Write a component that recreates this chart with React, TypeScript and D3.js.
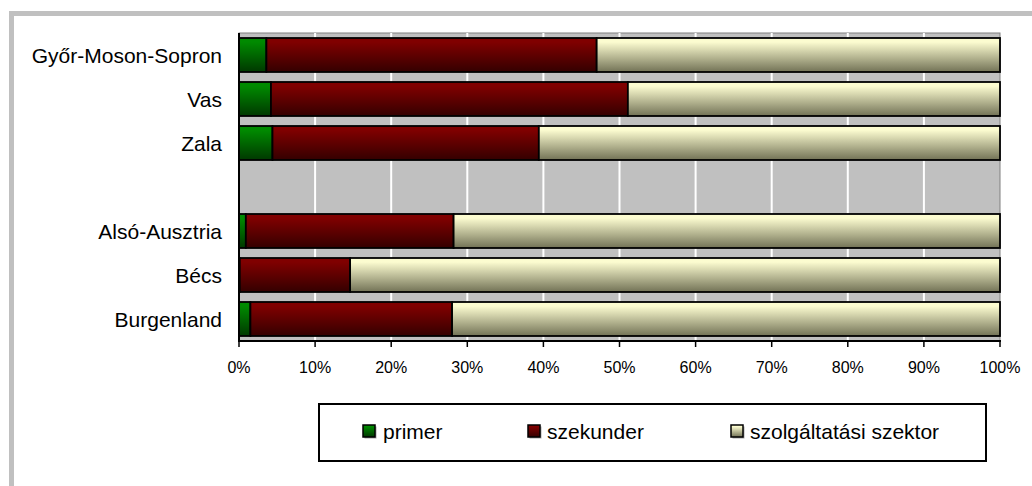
import React from "react";
import * as d3 from "d3";

const categories = ["Győr-Moson-Sopron", "Vas", "Zala", "", "Alsó-Ausztria", "Bécs", "Burgenland"];
const primer = [3.6, 4.2, 4.4, 0, 0.9, 0.1, 1.5];
const szekunder = [43.4, 46.9, 35.0, 0, 27.3, 14.5, 26.5];
const szolgaltatasi = [53.0, 48.9, 60.6, 0, 71.8, 85.4, 72.0];
const seriesNames = ["primer", "szekunder", "szolgáltatási szektor"];
const xTicks = [0, 0.1, 0.2, 0.3, 0.4, 0.5, 0.6, 0.7, 0.8, 0.9, 1];

const gradients = [
  { id: "gGreen", top: "#008a00", bottom: "#003800" },
  { id: "gRed", top: "#800000", bottom: "#340000" },
  { id: "gCream", top: "#fcfcd0", bottom: "#727256" },
];

export default function App() {
  const W = 1032, H = 486;
  const left = 239, right = 1000, top = 33, bottom = 341;
  const x = d3.scaleLinear().domain([0, 1]).range([left, right]);
  const y = d3.scaleBand<number>().domain(categories.map((_, i) => i)).range([top, bottom]).paddingInner(10 / 44).paddingOuter(5 / 44);
  const fmt = d3.format(".0%");

  const rows = categories.map((c, i) => ({ i, c, vals: [primer[i], szekunder[i], szolgaltatasi[i]] }));
  const stack = rows.map((r) => {
    const total = d3.sum(r.vals);
    let acc = 0;
    return r.vals.map((v, k) => {
      const s0 = total ? acc / total : 0;
      acc += v;
      const s1 = total ? acc / total : 0;
      return { k, s0, s1, v };
    });
  });

  const font = "Arial, 'Liberation Sans', sans-serif";
  const legendItems = [
    { sx: 363, tx: 383 },
    { sx: 528, tx: 547 },
    { sx: 731, tx: 750 },
  ];

  return (
    <svg width={W} height={H} style={{ position: "absolute", left: 0, top: 0, background: "#fff" }} fontFamily={font}>
      <defs>
        {gradients.map((g) => (
          <linearGradient key={g.id} id={g.id} x1="0" y1="0" x2="0" y2="1">
            <stop offset="0" stopColor={g.top} />
            <stop offset="0.12" stopColor={g.top} />
            <stop offset="1" stopColor={g.bottom} />
          </linearGradient>
        ))}
      </defs>
      <rect x={11.5} y={13.5} width={W + 20} height={H + 20} fill="none" stroke="#c0c0c0" strokeWidth={5} />
      <rect x={left} y={top} width={right - left} height={bottom - top} fill="#c0c0c0" stroke="#808080" strokeWidth={1} />
      {xTicks.slice(1, -1).map((t) => (
        <line key={t} x1={x(t)} x2={x(t)} y1={top} y2={bottom} stroke="#fff" strokeWidth={2} />
      ))}
      {rows.map((r) =>
        stack[r.i].map((s) =>
          s.v > 0.05 ? (
            <rect
              key={r.i + "-" + s.k}
              x={x(s.s0)}
              y={y(r.i)}
              width={x(s.s1) - x(s.s0)}
              height={y.bandwidth()}
              fill={`url(#${gradients[s.k].id})`}
              stroke="#000"
              strokeWidth={1.8}
            />
          ) : null
        )
      )}
      <line x1={left} x2={left} y1={top} y2={bottom} stroke="#000" strokeWidth={2} />
      <line x1={left - 1} x2={right + 1} y1={bottom} y2={bottom} stroke="#000" strokeWidth={2} />
      {xTicks.map((t) => (
        <g key={t}>
          <line x1={x(t)} x2={x(t)} y1={bottom} y2={bottom + 6} stroke="#000" strokeWidth={1.5} />
          <text x={x(t)} y={373} textAnchor="middle" fontSize={16} fill="#000">
            {fmt(t)}
          </text>
        </g>
      ))}
      {categories.map((c, i) =>
        c ? (
          <text key={i} x={222} y={(y(i) as number) + y.bandwidth() / 2 + 7.5} textAnchor="end" fontSize={21} fill="#000">
            {c}
          </text>
        ) : null
      )}
      <rect x={319} y={404} width={667} height={57} fill="#fff" stroke="#000" strokeWidth={2} />
      {seriesNames.map((n, k) => (
        <g key={n}>
          <rect x={legendItems[k].sx + 1.5} y={426.5} width={12} height={12} fill="#555" opacity={0.5} />
          <rect x={legendItems[k].sx} y={425} width={12} height={12} fill={`url(#${gradients[k].id})`} stroke="#000" strokeWidth={1.5} />
          <text x={legendItems[k].tx} y={439} fontSize={21} fill="#000">
            {n}
          </text>
        </g>
      ))}
    </svg>
  );
}
